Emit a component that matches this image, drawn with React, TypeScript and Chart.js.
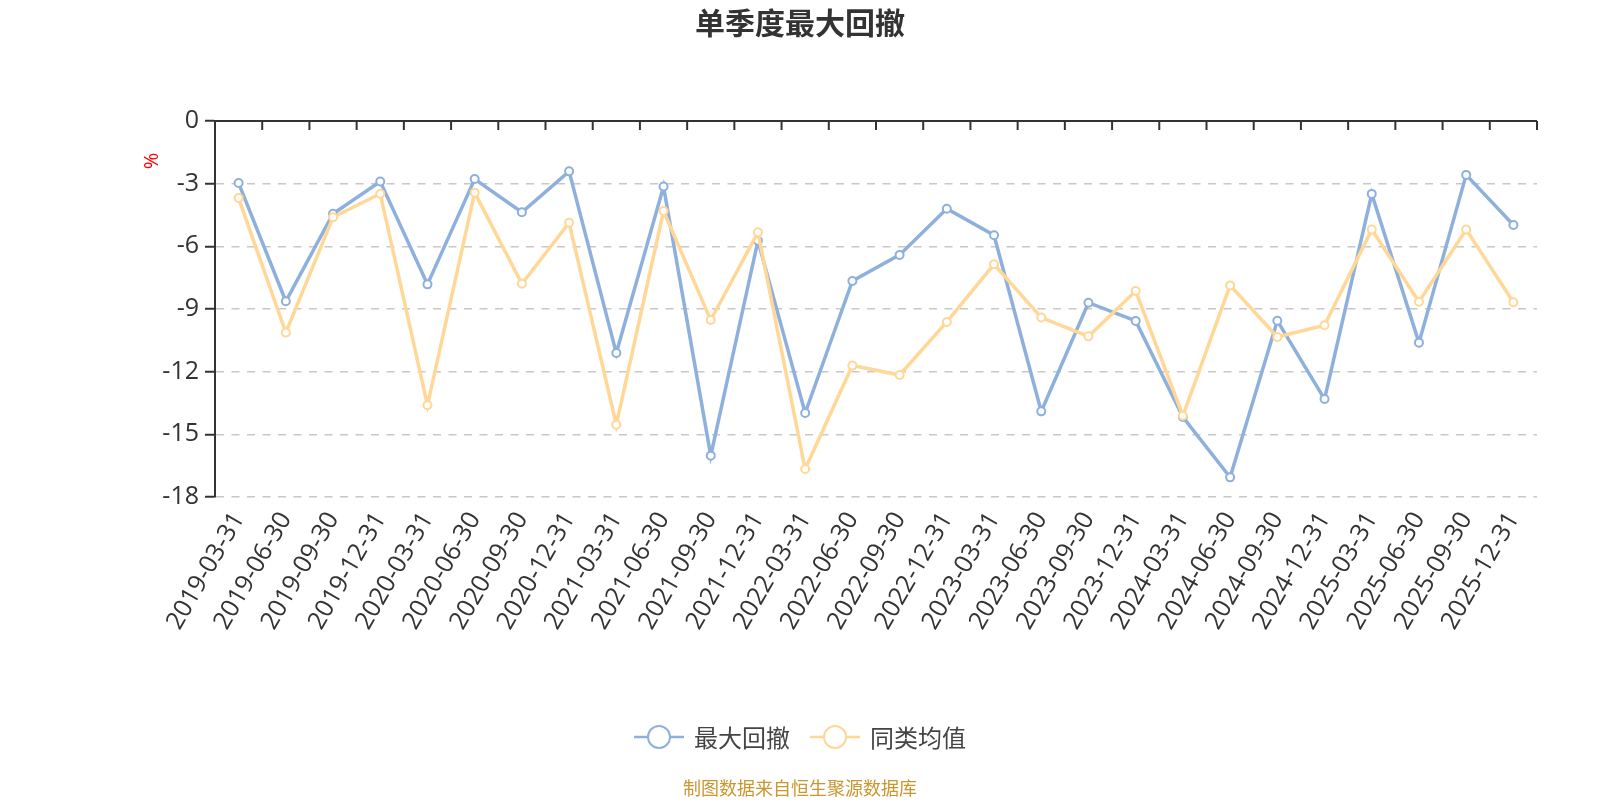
import React, { useEffect, useRef } from 'react';
import { Chart, registerables } from 'chart.js';

Chart.register(...registerables);

const categories = [
  '2019-03-31', '2019-06-30', '2019-09-30', '2019-12-31',
  '2020-03-31', '2020-06-30', '2020-09-30', '2020-12-31',
  '2021-03-31', '2021-06-30', '2021-09-30', '2021-12-31',
  '2022-03-31', '2022-06-30', '2022-09-30', '2022-12-31',
  '2023-03-31', '2023-06-30', '2023-09-30', '2023-12-31',
  '2024-03-31', '2024-06-30', '2024-09-30', '2024-12-31',
  '2025-03-31', '2025-06-30', '2025-09-30', '2025-12-31',
];

const maxDrawdown = [
  -2.97, -8.63, -4.44, -2.9, -7.82, -2.78, -4.37, -2.41,
  -11.11, -3.14, -16.02, -5.73, -13.98, -7.66, -6.41, -4.2,
  -5.47, -13.9, -8.7, -9.57, -14.17, -17.06, -9.56, -13.31,
  -3.49, -10.61, -2.58, -4.98,
];

const peerAverage = [
  -3.69, -10.13, -4.61, -3.48, -13.61, -3.43, -7.79, -4.87,
  -14.54, -4.31, -9.53, -5.33, -16.66, -11.71, -12.16, -9.62,
  -6.86, -9.41, -10.31, -8.14, -14.11, -7.87, -10.34, -9.78,
  -5.2, -8.65, -5.2, -8.68,
];

const yMin = -18;
const yMax = 0;
const yStep = 3;

const titleText = '单季度最大回撤';
const seriesNames = ['最大回撤', '同类均值'];
const unitText = '%';
const sourceText = '制图数据来自恒生聚源数据库';

const BLUE = '#8eb0dd';
const ORANGE = '#ffd797';
const CJK = '"Noto Sans CJK SC", "Noto Sans", sans-serif';
const NUM = '"Open Sans", "Noto Sans", sans-serif';

const decorPlugin = {
  id: 'decor',
  beforeDatasetsDraw(chart: any) {
    const { ctx, chartArea } = chart;
    const xs = chart.scales.x;
    const half = (xs.getPixelForValue(1) - xs.getPixelForValue(0)) / 2;
    ctx.save();
    ctx.strokeStyle = '#333';
    ctx.lineWidth = 2;
    ctx.beginPath();
    ctx.moveTo(chartArea.left - 1, chartArea.top);
    ctx.lineTo(chartArea.right, chartArea.top);
    ctx.stroke();
    for (let k = 0; k <= categories.length; k++) {
      const x = k < categories.length ? xs.getPixelForValue(k) - half : xs.getPixelForValue(k - 1) + half;
      ctx.beginPath();
      ctx.moveTo(x, chartArea.top);
      ctx.lineTo(x, chartArea.top + 9);
      ctx.stroke();
    }
    ctx.restore();
  },
  afterDraw(chart: any) {
    const { ctx } = chart;
    ctx.save();
    // title
    ctx.fillStyle = '#333';
    ctx.font = `bold 30px ${CJK}`;
    ctx.textAlign = 'center';
    ctx.textBaseline = 'middle';
    ctx.fillText(titleText, 800, 23);

    // unit label
    ctx.save();
    ctx.translate(152, 161);
    ctx.rotate(-Math.PI / 2);
    ctx.fillStyle = '#ff0000';
    ctx.font = `20px ${NUM}`;
    ctx.textAlign = 'center';
    ctx.textBaseline = 'middle';
    ctx.fillText(unitText, 0, 0);
    ctx.restore();

    // legend
    const colors = [BLUE, ORANGE];
    ctx.font = `24px ${CJK}`;
    const iconW = 50;
    const gapText = 10;
    const itemGap = 20;
    const widths = seriesNames.map((n) => iconW + gapText + ctx.measureText(n).width);
    const total = widths.reduce((a, b) => a + b, 0) + itemGap * (seriesNames.length - 1);
    let x = 800 - total / 2;
    const ly = 737;
    seriesNames.forEach((name, i) => {
      ctx.strokeStyle = colors[i];
      ctx.lineWidth = 2.5;
      ctx.beginPath();
      ctx.moveTo(x, ly);
      ctx.lineTo(x + iconW, ly);
      ctx.stroke();
      ctx.beginPath();
      ctx.arc(x + iconW / 2, ly, 11, 0, Math.PI * 2);
      ctx.fillStyle = '#fff';
      ctx.fill();
      ctx.lineWidth = 2;
      ctx.stroke();
      ctx.fillStyle = '#444';
      ctx.textAlign = 'left';
      ctx.textBaseline = 'middle';
      ctx.fillText(name, x + iconW + gapText, ly + 1);
      x += widths[i] + itemGap;
    });

    // source
    ctx.fillStyle = '#c9962f';
    ctx.font = `18px ${CJK}`;
    ctx.textAlign = 'center';
    ctx.textBaseline = 'middle';
    ctx.fillText(sourceText, 800, 788);
    ctx.restore();
  },
};

export default function App() {
  const canvasRef = useRef<HTMLCanvasElement | null>(null);

  useEffect(() => {
    if (!canvasRef.current) return;
    const chart = new Chart(canvasRef.current, {
      type: 'line',
      data: {
        labels: categories,
        datasets: [
          {
            label: seriesNames[0],
            data: maxDrawdown,
            borderColor: BLUE,
            backgroundColor: '#fff',
            borderWidth: 3.5,
            pointRadius: 4,
            pointBorderWidth: 2,
            pointBackgroundColor: '#fff',
            pointBorderColor: BLUE,
            tension: 0,
            order: 2,
          },
          {
            label: seriesNames[1],
            data: peerAverage,
            borderColor: ORANGE,
            backgroundColor: '#fff',
            borderWidth: 3.5,
            pointRadius: 4,
            pointBorderWidth: 2,
            pointBackgroundColor: '#fff',
            pointBorderColor: ORANGE,
            tension: 0,
            order: 1,
          },
        ],
      },
      options: {
        responsive: false,
        animation: false,
        devicePixelRatio: 1,
        layout: { padding: { top: 121, right: 63, bottom: 163, left: 0 } },
        plugins: {
          legend: { display: false },
          title: { display: false },
          tooltip: { enabled: false },
        },
        scales: {
          x: {
            type: 'category',
            offset: true,
            grid: { display: false, drawTicks: false },
            border: { display: false },
            ticks: {
              autoSkip: false,
              minRotation: 60,
              maxRotation: 60,
              color: '#333',
              padding: 10,
              font: { family: NUM, size: 25 },
            },
            afterFit: (s: any) => {
              s.height = 140;
            },
          },
          y: {
            min: yMin,
            max: yMax,
            ticks: {
              stepSize: yStep,
              color: '#333',
              padding: 6,
              font: { family: NUM, size: 25 },
            },
            grid: {
              color: (c: any) => (c.tick && c.tick.value === 0 ? 'rgba(0,0,0,0)' : '#c8c8c8'),
              lineWidth: 1.5,
              drawTicks: true,
              tickLength: 10,
              tickColor: '#333',
              tickWidth: 2,
            },
            border: { display: true, color: '#333', width: 2, dash: [8, 7.5] },
            afterFit: (s: any) => {
              s.width = 215;
            },
          },
        },
      },
      plugins: [decorPlugin],
    });
    return () => chart.destroy();
  }, []);

  return (
    <div style={{ position: 'absolute', left: 0, top: 0, width: 1600, height: 800, background: '#fff' }}>
      <canvas ref={canvasRef} width={1600} height={800} style={{ width: 1600, height: 800 }} />
    </div>
  );
}
